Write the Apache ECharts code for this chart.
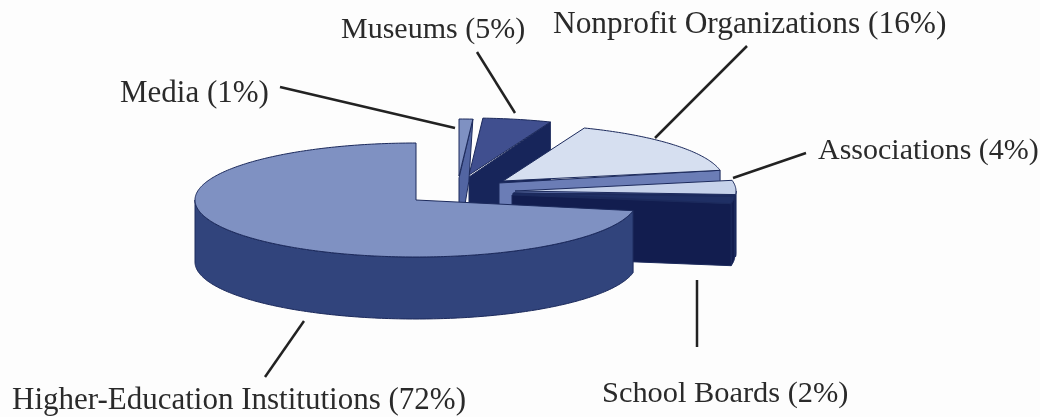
<!DOCTYPE html>
<html>
<head>
<meta charset="utf-8">
<style>
  html, body { margin: 0; padding: 0; background: #fdfdfd; }
  #main { width: 1040px; height: 417px; }
</style>
<script src="https://cdn.jsdelivr.net/npm/echarts@6/dist/echarts.min.js"></script>
</head>
<body>
<div id="main"></div>
<script>
// clockwise from 12 o'clock
const categories = ['Media', 'Museums', 'Nonprofit Organizations', 'Associations', 'School Boards', 'Higher-Education Institutions']
const shares = [1, 5, 16, 4, 2, 72]

// look of the fake 3D pie
const tilt = 57 / 221
const depth = 62
const outline = '#1c2a5c'
const sliceStyles = [
  { dx: 43, dy: -24, paint: 2, top: '#7f91c2', face: '#5265a2', lean: -4, back: 0 },
  { dx: 53, dy: -25, paint: 1, top: '#404f8f', face: '#17255a', lean: 0, back: 0 },
  { dx: 87, dy: -19, paint: 3, top: '#d6dff0', face: '#6b7db6', lean: 0, back: -4 },
  { dx: 99, dy: -9, paint: 4, top: '#c6d2ea', face: '#1b2a60', lean: 0, back: -2 },
  { dx: 98, dy: -7, paint: 5, top: '#1f2f64', face: '#121d4f', lean: 0, back: -2 },
  { dx: 0, dy: 0, paint: 6, top: '#7f91c2', face: '#31447c', lean: 0, back: 0 }
]
// y is the text baseline
const labelStyles = [
  { x: 120, y: 102, size: 31, line: [[280, 87], [455, 128]] },
  { x: 341, y: 38, size: 30, line: [[477, 52], [515, 113]] },
  { x: 553, y: 33, size: 31.4, line: [[747, 46], [655, 138]] },
  { x: 818, y: 159, size: 30, line: [[806, 153], [733, 178]] },
  { x: 602, y: 402, size: 30.4, line: [[697, 280], [697, 347]] },
  { x: 12, y: 409, size: 31, line: [[304, 321], [265, 377]] }
]

let running = 0
const rows = shares.map((s, i) => {
  const row = [running, running + s, i]
  running += s
  return row
})

function renderSlice(params, api) {
  const from = api.value(0)
  const to = api.value(1)
  const i = api.value(2)
  const st = sliceStyles[i]
  const lb = labelStyles[i]
  const cy = api.coord([0, 0])[1]
  const project = (r, v) => {
    const p = api.coord([r, v])
    return [p[0] + st.dx, cy + (p[1] - cy) * tilt + st.dy]
  }
  const arc = (a, b) => {
    const pts = []
    for (let v = a; v < b; v += 0.25) pts.push(project(1, v))
    pts.push(project(1, b))
    return pts
  }
  const down = (p, lean) => [p[0] + (lean || 0), p[1] + depth]
  const apex = project(0, 0)
  const poly = (points, fill, z) => ({
    type: 'polygon',
    z2: st.paint * 10 + z,
    shape: { points },
    style: { fill, stroke: outline, lineWidth: 1 }
  })
  const children = []

  // outer wall, only the part that faces the viewer
  const wallFrom = Math.max(from, 25)
  const wallTo = Math.min(to, 75)
  if (wallFrom < wallTo) {
    const edge = arc(wallFrom, wallTo)
    children.push(poly(edge.concat(edge.map(p => down(p)).reverse()), st.face, 1))
  }
  // cut face at the end of the slice
  if (to < 50) {
    const e = project(1, to)
    const corner = [apex[0] + st.back, apex[1] + 2]
    children.push(poly([corner, e, down(e, st.lean), down(corner)], st.face, 2))
  }
  children.push(poly([apex].concat(arc(from, to)), st.top, 3))

  children.push({
    type: 'line',
    z2: 100,
    shape: { x1: lb.line[0][0], y1: lb.line[0][1], x2: lb.line[1][0], y2: lb.line[1][1] },
    style: { stroke: '#222222', lineWidth: 2.5 }
  })
  children.push({
    type: 'text',
    z2: 100,
    style: {
      x: lb.x,
      y: lb.y - lb.size * 0.77,
      text: categories[i] + ' (' + shares[i] + '%)',
      fill: '#2a2a2a',
      font: lb.size + 'px "Liberation Serif"',
      align: 'left',
      verticalAlign: 'top'
    }
  })
  return { type: 'group', children }
}

const option = {
  backgroundColor: '#fdfdfd',
  animation: false,
  polar: { center: [416, 200], radius: 221 },
  angleAxis: { type: 'value', min: 0, max: 100, startAngle: 90, show: false },
  radiusAxis: { type: 'value', min: 0, max: 1, show: false },
  series: [
    {
      type: 'custom',
      coordinateSystem: 'polar',
      clip: false,
      silent: true,
      data: rows,
      renderItem: renderSlice
    }
  ]
}

const chart = echarts.init(document.getElementById('main'))
chart.setOption(option)
</script>
</body>
</html>
